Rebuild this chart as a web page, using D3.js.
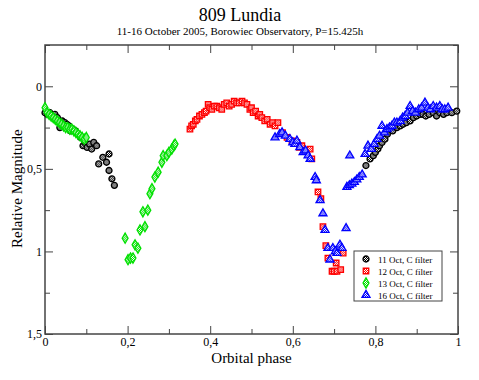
<!DOCTYPE html>
<html>
<head>
<meta charset="utf-8">
<script src="https://cdn.jsdelivr.net/npm/d3@7"></script>
<style>
  body { margin: 0; background: #fff; }
  svg { display: block; font-family: "Liberation Serif", "DejaVu Serif", serif; }
</style>
</head>
<body>
<svg id="chart" width="479" height="380"></svg>
<script>
// Light curve data, [phase, relative magnitude]
const oct11 = [
  [0.000,0.16],[0.006,0.17],[0.012,0.16],[0.018,0.18],[0.024,0.17],[0.030,0.19],[0.036,0.25],[0.042,0.21],
  [0.048,0.22],[0.053,0.23],[0.058,0.24],[0.062,0.27],[0.068,0.26],[0.074,0.27],[0.080,0.29],[0.086,0.31],
  [0.092,0.36],[0.097,0.34],[0.102,0.37],[0.108,0.35],[0.113,0.38],[0.118,0.34],[0.125,0.36],[0.130,0.47],
  [0.140,0.43],[0.149,0.46],[0.155,0.41],[0.155,0.51],[0.162,0.56],[0.168,0.60],
  [0.777,0.48],[0.787,0.44],[0.795,0.42],[0.800,0.40],[0.806,0.38],[0.810,0.36],[0.816,0.34],[0.823,0.32],
  [0.829,0.29],[0.835,0.26],[0.842,0.27],[0.852,0.25],[0.860,0.24],[0.867,0.23],[0.875,0.22],[0.884,0.21],
  [0.892,0.19],[0.900,0.18],[0.908,0.17],[0.915,0.17],[0.922,0.18],[0.930,0.17],[0.940,0.16],[0.948,0.18],
  [0.956,0.16],[0.965,0.17],[0.973,0.16],[0.985,0.16],[0.997,0.15]
];
const oct12 = [
  [0.351,0.26],[0.355,0.24],[0.359,0.23],[0.364,0.21],[0.368,0.20],[0.374,0.18],[0.380,0.17],[0.386,0.16],
  [0.390,0.15],[0.395,0.11],[0.399,0.13],[0.404,0.14],[0.410,0.12],[0.416,0.12],[0.422,0.13],[0.428,0.14],
  [0.434,0.11],[0.440,0.10],[0.446,0.12],[0.452,0.11],[0.458,0.09],[0.464,0.10],[0.470,0.10],[0.477,0.09],
  [0.483,0.10],[0.489,0.11],[0.496,0.14],[0.500,0.13],[0.504,0.16],[0.510,0.15],[0.516,0.18],[0.520,0.17],
  [0.525,0.19],[0.532,0.21],[0.538,0.20],[0.545,0.23],[0.551,0.22],[0.557,0.24],[0.564,0.22],[0.575,0.28],
  [0.586,0.31],[0.598,0.33],[0.610,0.34],[0.616,0.37],[0.622,0.36],[0.630,0.39],[0.642,0.38],[0.646,0.44],
  [0.661,0.64],[0.668,0.68],[0.673,0.85],[0.680,0.965],[0.685,1.04],[0.695,1.12],[0.700,1.12],[0.705,1.07],
  [0.707,1.12],[0.716,1.11],[0.722,1.01]
];
const oct13 = [
  [0.000,0.13],[0.005,0.16],[0.010,0.17],[0.015,0.18],[0.020,0.19],[0.025,0.20],[0.030,0.21],[0.035,0.22],
  [0.040,0.23],[0.045,0.24],[0.050,0.25],[0.055,0.25],[0.060,0.26],[0.065,0.26],[0.070,0.27],[0.075,0.28],
  [0.080,0.29],[0.085,0.30],[0.090,0.31],[0.095,0.32],[0.100,0.31],
  [0.194,0.92],[0.201,1.05],[0.207,1.04],[0.213,1.04],[0.218,0.96],[0.225,0.98],[0.230,0.87],[0.237,0.76],
  [0.242,0.85],[0.249,0.75],[0.254,0.65],[0.259,0.62],[0.266,0.55],[0.274,0.52],[0.283,0.46],[0.286,0.42],
  [0.295,0.42],[0.300,0.40],[0.307,0.38],[0.312,0.36],[0.315,0.35]
];
const oct16 = [
  [0.557,0.31],[0.568,0.29],[0.574,0.28],[0.582,0.30],[0.593,0.32],[0.600,0.34],[0.605,0.35],[0.610,0.33],
  [0.617,0.37],[0.625,0.40],[0.631,0.39],[0.637,0.42],[0.642,0.44],[0.654,0.55],[0.657,0.57],[0.666,0.69],
  [0.673,0.77],[0.678,0.87],[0.685,0.98],[0.690,1.05],[0.697,0.98],[0.703,1.00],[0.707,1.01],[0.714,0.96],
  [0.719,0.98],[0.729,0.86],[0.731,0.61],[0.737,0.60],[0.743,0.59],[0.749,0.58],[0.755,0.565],[0.761,0.55],
  [0.768,0.535],[0.738,0.42],[0.775,0.41],[0.782,0.36],[0.790,0.38],[0.797,0.35],[0.804,0.32],[0.810,0.30],
  [0.816,0.24],[0.822,0.28],[0.828,0.26],[0.834,0.25],[0.840,0.24],[0.846,0.22],[0.852,0.22],[0.860,0.21],
  [0.866,0.19],[0.872,0.18],[0.878,0.16],[0.884,0.12],[0.890,0.15],[0.897,0.16],[0.905,0.14],[0.912,0.13],
  [0.920,0.10],[0.927,0.13],[0.933,0.14],[0.940,0.12],[0.948,0.13],[0.956,0.12],[0.962,0.14],[0.968,0.14],
  [0.976,0.13]
];

const seriesNames = ['11 Oct, C filter', '12 Oct, C filter', '13 Oct, C filter', '16 Oct, C filter'];
const seriesData = [oct11, oct12, oct13, oct16];
const seriesColors = ['#000000', '#ff0000', '#00e000', '#0000ff'];
const seriesSymbols = [d3.symbolCircle, d3.symbolSquare, d3.symbolDiamond, d3.symbolTriangle];

const xMajor = [0, 0.2, 0.4, 0.6, 0.8, 1];
const xMinor = [0.1, 0.3, 0.5, 0.7, 0.9];
const yMajor = [0, 0.5, 1, 1.5];
const yMinor = [-0.25, 0.25, 0.75, 1.25];

const margin = { top: 45, right: 21, bottom: 46, left: 45 };
const width = 479, height = 380;

const svg = d3.select('#chart');

// Patterned fills, like the grace symbols
const defs = svg.append('defs');
seriesColors.forEach((c, i) => {
    const p = defs.append('pattern')
        .attr('id', `pat${i}`)
        .attr('width', 2).attr('height', 2)
        .attr('patternUnits', 'userSpaceOnUse');
    p.append('rect').attr('width', 2).attr('height', 2).attr('fill', '#fff');
    p.append('rect').attr('width', 1).attr('height', 1).attr('fill', c);
    p.append('rect').attr('x', 1).attr('y', 1).attr('width', 1).attr('height', 1).attr('fill', c);
});

const x = d3.scaleLinear().domain([0, 1]).range([margin.left, width - margin.right]);
const y = d3.scaleLinear().domain([-0.25, 1.5]).range([margin.top, height - margin.bottom]);

const fmt = (d) => String(d).replace('.', ',');
const frameColor = '#444';

// Titles
svg.append('text').attr('x', 240).attr('y', 21).attr('text-anchor', 'middle')
    .attr('font-size', 18).text('809 Lundia');
svg.append('text').attr('x', 240).attr('y', 35).attr('text-anchor', 'middle')
    .attr('font-size', 11).text('11-16 October 2005, Borowiec Observatory, P=15.425h');

// Axes with inward ticks
const plotW = width - margin.left - margin.right;
const plotH = height - margin.bottom - margin.top;

const drawAxis = (axis, transform) => {
    const g = svg.append('g').attr('transform', transform).call(axis);
    g.select('.domain').remove();
    g.selectAll('line').attr('stroke', frameColor).attr('stroke-width', 1);
    g.selectAll('text').attr('font-size', 12).attr('font-family', '"Liberation Serif", serif').attr('fill', '#000');
    return g;
};

drawAxis(d3.axisBottom(x).tickValues(xMajor).tickSize(-8).tickPadding(3).tickFormat(fmt),
    `translate(0,${height - margin.bottom})`);
drawAxis(d3.axisBottom(x).tickValues(xMinor).tickSize(-5).tickFormat(''),
    `translate(0,${height - margin.bottom})`);
drawAxis(d3.axisTop(x).tickValues(xMajor).tickSize(-8).tickFormat(''), `translate(0,${margin.top})`);
drawAxis(d3.axisTop(x).tickValues(xMinor).tickSize(-5).tickFormat(''), `translate(0,${margin.top})`);
drawAxis(d3.axisLeft(y).tickValues(yMajor).tickSize(-8).tickPadding(3).tickFormat(fmt),
    `translate(${margin.left},0)`);
drawAxis(d3.axisLeft(y).tickValues(yMinor).tickSize(-5).tickFormat(''), `translate(${margin.left},0)`);
drawAxis(d3.axisRight(y).tickValues(yMajor).tickSize(-8).tickFormat(''), `translate(${width - margin.right},0)`);
drawAxis(d3.axisRight(y).tickValues(yMinor).tickSize(-5).tickFormat(''), `translate(${width - margin.right},0)`);

svg.append('rect')
    .attr('x', margin.left).attr('y', margin.top)
    .attr('width', plotW).attr('height', plotH)
    .attr('fill', 'none').attr('stroke', frameColor).attr('stroke-width', 1.5);

// Axis labels
svg.append('text').attr('x', x(0.5)).attr('y', 363).attr('text-anchor', 'middle')
    .attr('font-size', 15).text('Orbital phase');
svg.append('text').attr('transform', `translate(22,${y(0.62)}) rotate(-90)`)
    .attr('text-anchor', 'middle').attr('font-size', 15).text('Relative Magnitude');

// Points
const symbolSizes = [28, 30, 30, 28];
seriesData.forEach((data, i) => {
    const sym = d3.symbol().type(seriesSymbols[i]).size(symbolSizes[i]);
    svg.append('g').selectAll('path').data(data).enter().append('path')
        .attr('transform', (d) => `translate(${x(d[0])},${y(d[1])})`)
        .attr('d', sym)
        .attr('fill', `url(#pat${i})`)
        .attr('stroke', seriesColors[i])
        .attr('stroke-width', 1.3);
});

// Legend
const legend = svg.append('g').attr('transform', 'translate(354,251)');
legend.append('rect').attr('width', 88).attr('height', 50)
    .attr('fill', '#fff').attr('stroke', frameColor).attr('stroke-width', 1);
seriesNames.forEach((name, i) => {
    const row = legend.append('g').attr('transform', `translate(12,${8 + i * 12})`);
    row.append('path')
        .attr('d', d3.symbol().type(seriesSymbols[i]).size(symbolSizes[i])())
        .attr('fill', `url(#pat${i})`)
        .attr('stroke', seriesColors[i])
        .attr('stroke-width', 1.3);
    row.append('text').attr('x', 12).attr('y', 3.5).attr('font-size', 9).text(name);
});
</script>
</body>
</html>
